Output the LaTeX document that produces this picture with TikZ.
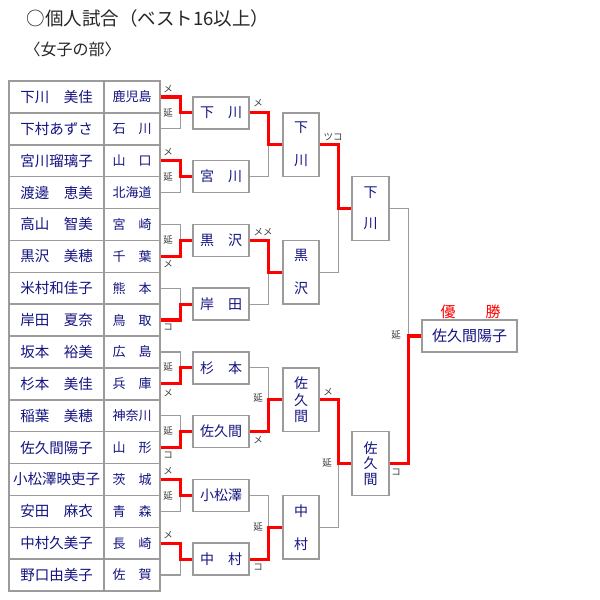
\documentclass[tikz,border=0pt]{standalone}
\usepackage{fontspec}
\setmainfont{Noto Sans CJK JP}
\usepackage{tikz}
\definecolor{lineGray}{RGB}{155,155,155}
\definecolor{nameBlue}{RGB}{20,20,130}
\definecolor{markGray}{RGB}{60,60,60}

\begin{document}
\begin{tikzpicture}[x=1pt,y=-1pt,
  cell/.style={draw=lineGray, line width=1.5pt, minimum height=31.875pt, inner sep=0pt, text=nameBlue},
  namecell/.style={cell, minimum width=95pt, font=\fontsize{14.5}{16}\selectfont},
  prefcell/.style={cell, minimum width=56pt, font=\fontsize{13}{15}\selectfont},
  box/.style={draw=lineGray, line width=1.5pt, fill=white, inner sep=0pt, text=nameBlue,
    align=center, font=\fontsize{14}{16.5}\selectfont},
  gline/.style={draw=lineGray, line width=1.2pt},
  wline/.style={draw=red, line width=3.2pt},
  score/.style={text=markGray, inner sep=0pt, font=\fontsize{9.5}{10}\selectfont}]
  \fill[white] (0,0) rectangle (600,600);
  \useasboundingbox (0,0) rectangle (600,600);
  % headings
  \node[anchor=west, text=black!85, font=\fontsize{18.5}{21}\selectfont] (title) at (23,18) {○個人試合（ベスト16以上）};
  \node[anchor=west, text=black!85, font=\fontsize{16}{19}\selectfont] (section) at (21,49) {〈女子の部〉};
  % entry table
  \foreach \nm/\pf [count=\i] in {下川　美佳/鹿児島, 下村あずさ/石　川, 宮川瑠璃子/山　口, 渡邊　恵美/北海道,
      高山　智美/宮　崎, 黒沢　美穂/千　葉, 米村和佳子/熊　本, 岸田　夏奈/鳥　取,
      坂本　裕美/広　島, 杉本　美佳/兵　庫, 稲葉　美穂/神奈川, 佐久間陽子/山　形,
      小松澤映吏子/茨　城, 安田　麻衣/青　森, 中村久美子/長　崎, 野口由美子/佐　賀} {
    \pgfmathsetmacro{\yy}{81+31.875*(\i-0.5)}
    \node[namecell] (n\i) at (56.5,\yy) {\nm};
    \node[prefcell] (p\i) at (132,\yy) {\pf};
  }
  % second round boxes
  \foreach \lab [count=\k] in {下　川, 宮　川, 黒　沢, 岸　田, 杉　本, 佐久間, 小松澤, 中　村} {
    \pgfmathsetmacro{\yy}{81+31.875*(2*\k-1)}
    \node[box, minimum width=56pt, minimum height=32pt] (a\k) at (221,\yy) {\lab};
  }
  % quarter finals
  \foreach \lab [count=\j] in {{下\\[16.5pt]川}, {黒\\[16.5pt]沢}, {佐\\久\\間}, {中\\[16.5pt]村}} {
    \pgfmathsetmacro{\yy}{81+31.875*(4*\j-2)}
    \node[box, minimum width=36pt, minimum height=63.75pt] (b\j) at (301,\yy) {\lab};
  }
  % semi finals
  \node[box, minimum width=37pt, minimum height=63.75pt] (s1) at (370.5,208.5) {下\\[15pt]川};
  \node[box, minimum width=37pt, minimum height=63.75pt] (s2) at (370.5,463.5) {佐\\[-1pt]久\\[-1pt]間};
  % champion
  \node[box, minimum width=95pt, minimum height=32pt, font=\fontsize{15}{17}\selectfont] (champ) at (469.5,336) {佐久間陽子};
  \node[text=red, font=\fontsize{15}{17}\selectfont] (title2) at (470.5,312) {優　　勝};
  % bracket lines
  \foreach \i in {1,...,16} {
    \pgfmathtruncatemacro{\k}{(\i+1)/2}
    \draw[gline] (p\i.east) -- ++(20,0) |- (a\k.west);
  }
  \foreach \k in {1,...,8} {
    \pgfmathtruncatemacro{\j}{(\k+1)/2}
    \draw[gline] (a\k.east) -- ++(19,0) |- (b\j.west);
  }
  \foreach \j in {1,...,4} {
    \pgfmathtruncatemacro{\m}{(\j+1)/2}
    \draw[gline] (b\j.east) -- ++(19,0) |- (s\m.west);
  }
  \foreach \m in {1,2}
    \draw[gline] (s\m.east) -- ++(19,0) |- (champ.west);
  % winners
  \foreach \i/\k in {1/1, 3/2, 6/3, 8/4, 10/5, 12/6, 13/7, 15/8}
    \draw[wline] (p\i.east) -- ++(20,0) |- (a\k.west);
  \foreach \k/\j in {1/1, 3/2, 6/3, 8/4}
    \draw[wline] (a\k.east) -- ++(19,0) |- (b\j.west);
  \foreach \j/\m in {1/1, 3/2}
    \draw[wline] (b\j.east) -- ++(19,0) |- (s\m.west);
  \draw[wline] (s2.east) -- ++(19,0) |- (champ.west);
  % scoring marks
  \foreach \x/\y/\t [count=\c] in {168/89/メ, 168/113/延, 168/152/メ, 168/177/延, 168/240/延, 168/264/メ,
      168/327/コ, 168/367/延, 168/393/メ, 168/431/延, 168/455/コ, 168/471/メ, 168/496/延, 168/535/メ,
      258/103/メ, 263/232/メメ, 258/398/延, 258/440/メ, 258/527/延, 258/567/コ,
      333/137/ツコ, 328/392/メ, 327/463/延, 396/335/延, 396/472/コ}
    \node[score] (sc\c) at (\x,\y) {\t};
\end{tikzpicture}
\end{document}
